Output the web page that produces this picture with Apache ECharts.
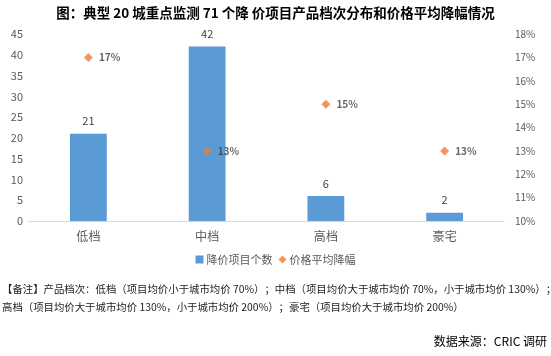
<!DOCTYPE html>
<html><head><meta charset="utf-8">
<script src="https://cdn.jsdelivr.net/npm/echarts@6/dist/echarts.min.js"></script>
<style>html,body{margin:0;padding:0;background:#fff;}#c{width:551px;height:356px;}</style>
</head><body><div id="c"></div>
<script>
var categories = ['低档', '中档', '高档', '豪宅'];
var countValues = [21, 42, 6, 2];
var dropValues = [17, 13, 15, 13];
var leftTicks = [0, 45, 5];
var rightTicks = [10, 18, 1];
var titleText = '图：典型 20 城重点监测 71 个降 价项目产品档次分布和价格平均降幅情况';
var noteLine1 = '【备注】产品档次：低档（项目均价小于城市均价 70%）；中档（项目均价大于城市均价 70%，小于城市均价 130%）；';
var noteLine2 = '高档（项目均价大于城市均价 130%，小于城市均价 200%）；豪宅（项目均价大于城市均价 200%）';
var sourceText = '数据来源：CRIC 调研';

var chart = echarts.init(document.getElementById('c'), null, {renderer: 'canvas'});
var font = '"Noto Sans CJK SC", sans-serif';
chart.setOption({
  animation: false,
  textStyle: {fontFamily: font},
  title: {
    text: titleText, left: 'center', top: 1,
    textStyle: {fontSize: 13.5, fontWeight: 'bold', color: '#000', fontFamily: font}
  },
  grid: {left: 29, right: 47, top: 34, bottom: 135, containLabel: false},
  legend: {
    bottom: 86, left: 'center', itemGap: 6, itemWidth: 8, itemHeight: 8,
    textStyle: {fontSize: 11, color: '#595959', padding: [0, 0, 0, -2]},
    data: [
      {name: '降价项目个数', icon: 'rect'},
      {name: '价格平均降幅', icon: 'diamond'}
    ]
  },
  xAxis: {
    type: 'category', data: categories,
    axisLine: {lineStyle: {color: '#d9d9d9'}},
    axisTick: {show: false},
    axisLabel: {fontSize: 12, color: '#595959', margin: 9}
  },
  yAxis: [
    {
      type: 'value', min: leftTicks[0], max: leftTicks[1], interval: leftTicks[2],
      position: 'left', offset: 0,
      splitLine: {show: false}, axisLine: {show: false}, axisTick: {show: false},
      axisLabel: {fontSize: 11, color: '#595959', margin: 6, align: 'right'}
    },
    {
      type: 'value', min: rightTicks[0], max: rightTicks[1], interval: rightTicks[2],
      position: 'right',
      splitLine: {show: false}, axisLine: {show: false}, axisTick: {show: false},
      axisLabel: {fontSize: 10, color: '#595959', margin: 11, formatter: '{value}%'}
    }
  ],
  series: [
    {
      name: '降价项目个数', type: 'bar', data: countValues, yAxisIndex: 0,
      barWidth: '31%',
      itemStyle: {color: '#5b9bd5'},
      label: {show: true, position: 'top', fontSize: 11, color: '#404040', distance: 7}
    },
    {
      name: '价格平均降幅', type: 'scatter', data: dropValues, yAxisIndex: 1,
      symbol: 'diamond', symbolSize: 9,
      itemStyle: {color: '#ed7d31'},
      label: {show: true, position: 'right', distance: 6, fontSize: 10, fontWeight: 'bold', color: '#404040', formatter: '{c}%'}
    }
  ],
  graphic: [
    {type: 'text', left: 2, top: 284, style: {text: noteLine1, fontSize: 10.4, fill: '#222', fontFamily: font}},
    {type: 'text', left: 2, top: 302, style: {text: noteLine2, fontSize: 10.4, fill: '#222', fontFamily: font}},
    {type: 'text', right: 4, top: 335, style: {text: sourceText, fontSize: 12, fill: '#000', fontFamily: font}}
  ]
});
</script></body></html>
